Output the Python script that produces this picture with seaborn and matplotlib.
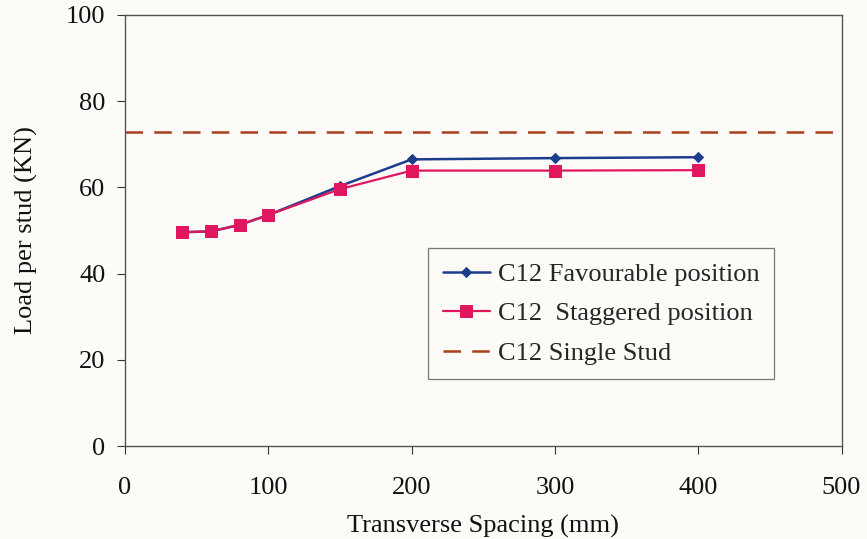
import matplotlib
matplotlib.use("Agg")
import matplotlib.pyplot as plt
import seaborn as sns
import pandas as pd

# Transverse spacing (mm) and load per stud (kN)
spacing = [40, 60, 80, 100, 150, 200, 300, 400]
favourable = [49.6, 49.8, 51.3, 53.6, 60.3, 66.5, 66.8, 67.0]
staggered = [49.6, 49.8, 51.3, 53.6, 59.6, 63.9, 63.9, 64.0]
single_stud = 72.8

label_fav = "C12 Favourable position"
label_stag = "C12  Staggered position"
label_single = "C12 Single Stud"

sns.set_style("white")
plt.rcParams["font.family"] = ["Liberation Serif", "DejaVu Serif"]

bg = "#fdfbf7"
fs = 19
fig = plt.figure(figsize=(8.67, 5.39), dpi=100, facecolor=bg)
ax = fig.add_axes([0.1442, 0.1725, 0.8264, 0.7997])
ax.set_facecolor(bg)

df = pd.DataFrame({
    "spacing": spacing * 2,
    "load": favourable + staggered,
    "series": [label_fav] * len(spacing) + [label_stag] * len(spacing),
})

sns.lineplot(data=df[df.series == label_fav], x="spacing", y="load", ax=ax,
             color="#1c3c8c", marker="D", markersize=5, linewidth=1.8,
             markeredgecolor="#1c3c8c", label=label_fav)
sns.lineplot(data=df[df.series == label_stag], x="spacing", y="load", ax=ax,
             color="#e0165f", marker="s", markersize=8, linewidth=1.6,
             markeredgecolor="#e0165f", label=label_stag)
ax.axhline(single_stud, color="#a8401c", linestyle=(0, (7, 4.5)), linewidth=1.8,
           label=label_single)

ax.set_xlim(0, 500)
ax.set_ylim(0, 100)
ax.set_xticks(range(0, 501, 100))
ax.set_yticks(range(0, 101, 20))
ax.tick_params(axis="both", direction="out", length=6, width=0.8,
               colors="#333333", labelcolor="#111111", labelsize=fs,
               bottom=True, left=True, pad=8)
ax.tick_params(axis="x", pad=16)
ax.set_xlabel("Transverse Spacing (mm)", fontsize=fs, labelpad=12, color="#111111")
ax.set_ylabel("Load per stud (KN)", fontsize=fs, labelpad=20, color="#111111")

for s in ax.spines.values():
    s.set_visible(True)
    s.set_color("#555555")
    s.set_linewidth(1.0)

leg = ax.legend(loc="upper left", bbox_to_anchor=(0.423, 0.459), borderaxespad=0,
                fontsize=fs, frameon=True, fancybox=False, edgecolor="#777777",
                facecolor=bg, framealpha=1, handlelength=1.8, handletextpad=0.3,
                labelspacing=0.6, borderpad=0.55)
leg.get_frame().set_linewidth(0.9)

fig.savefig("out.png", dpi=100, facecolor=bg)
